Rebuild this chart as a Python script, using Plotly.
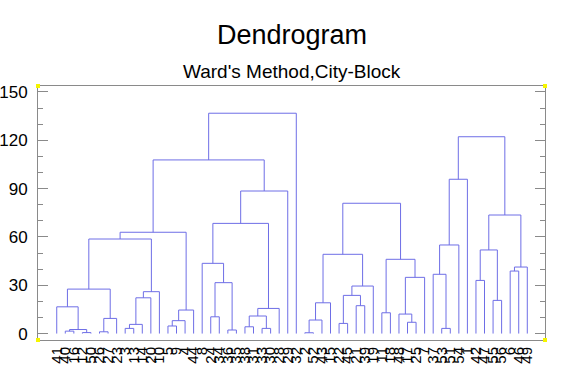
import plotly.graph_objects as go

# ---------------- data ----------------
leaf_labels = ["41", "40", "16", "12", "50", "26", "27", "23", "3", "13", "14", "20", "10", "5", "9",
               "4", "44", "8", "24", "34", "36", "35", "38", "31", "33", "30", "28", "29", "32",
               "2", "52", "43", "15", "22", "45", "21", "39", "19", "11", "18", "48", "17", "25", "7",
               "37", "53", "51", "54", "1", "42", "47", "55", "56", "6", "46", "49"]

# scipy-style linkage: ids 0..55 are leaves (in display order), 56+k is merge k
merge_left = [1, 3, 56, 0, 5, 60, 59, 8, 63, 64, 65, 62, 13, 68, 69, 67, 18, 20, 72, 17, 22, 24, 76, 78,
              75, 80, 71, 82,
              29, 84, 85, 33, 35, 87, 89, 86, 38, 41, 40, 94, 92, 91,
              45, 44, 99, 100, 49, 51, 102, 53, 105, 104, 101]
merge_right = [2, 4, 57, 58, 6, 7, 61, 9, 10, 11, 12, 66, 14, 15, 16, 70, 19, 21, 73, 74, 23, 25, 77, 26,
               79, 27, 81, 28,
               30, 31, 32, 34, 36, 88, 37, 90, 39, 42, 93, 43, 95, 96,
               46, 98, 47, 48, 50, 52, 103, 54, 55, 106, 107]
merge_height = [1.5, 0.6, 2.5, 16.6, 1.1, 9.4, 27.6, 3.2, 5.7, 22.2, 26.0, 58.7, 4.7, 8.0, 14.6, 62.9,
                10.4, 2.2, 31.6, 43.6, 4.2, 3.2, 10.9, 15.6, 68.4, 88.5, 107.8, 136.8,
                0.5, 8.4, 19.1, 6.3, 17.3, 23.7, 29.5, 49.2, 12.9, 7.0, 12.1, 34.9, 46.1, 80.9,
                3.2, 36.8, 55.0, 95.8, 33.0, 20.6, 51.9, 38.8, 41.3, 73.6, 122.2]

y_tick_values = [0, 30, 60, 90, 120, 150]

# ---------------- geometry from linkage ----------------
n = len(leaf_labels)
node_x = {i: float(i) for i in range(n)}
node_y = {i: 0.0 for i in range(n)}
xs, ys = [], []
for k, (a, b, h) in enumerate(zip(merge_left, merge_right, merge_height)):
    xa, ya, xb, yb = node_x[a], node_y[a], node_x[b], node_y[b]
    xs += [xa, xa, xb, xb, None]
    ys += [ya, h, h, yb, None]
    node_x[n + k] = (xa + xb) / 2.0
    node_y[n + k] = h

FONT = "Arial, Liberation Sans, sans-serif"
LINE = "#6e6ee6"
AX = "#8a8a8a"

fig = go.Figure()
fig.add_trace(go.Scatter(x=xs, y=ys, mode="lines", line=dict(color=LINE, width=1),
                         hoverinfo="skip", showlegend=False))

fig.update_layout(
    width=561, height=375,
    margin=dict(l=38, r=16, t=86, b=35),
    paper_bgcolor="white", plot_bgcolor="white",
    font=dict(family=FONT, color="black"),
    showlegend=False,
)
fig.update_xaxes(
    range=[-2.19, 57.07], showgrid=False, zeroline=False,
    showline=True, linecolor=AX, linewidth=1, mirror=True,
    tickmode="array", tickvals=list(range(n)), ticktext=leaf_labels,
    tickangle=-90, ticks="", tickfont=dict(size=15, family=FONT, color="black"),
    automargin=False,
)
fig.update_yaxes(
    range=[-4.0, 153.7], showgrid=False, zeroline=False,
    showline=True, linecolor=AX, linewidth=1, mirror="ticks",
    tickmode="array", tickvals=y_tick_values,
    ticks="inside", ticklen=10, tickcolor=AX, tickwidth=1,
    minor=dict(dtick=10, tick0=0, ticks="inside", ticklen=5, tickcolor=AX, tickwidth=1, showgrid=False),
    tickfont=dict(size=17, family=FONT, color="black"),
    ticklabelstandoff=6, automargin=False,
)

fig.add_annotation(text="Dendrogram", xref="paper", yref="paper", x=0.5, y=1.2,
                   xanchor="center", yanchor="middle", showarrow=False,
                   font=dict(size=27, family=FONT, color="black"))
fig.add_annotation(text="Ward's Method,City-Block", xref="paper", yref="paper", x=0.5, y=1.056,
                   xanchor="center", yanchor="middle", showarrow=False,
                   font=dict(size=19, family=FONT, color="black"))

# small yellow corner handles of the plot frame
dx, dy = 2.0 / 507, 2.0 / 254
for cx, cy in [(0, 0), (0, 1), (1, 0), (1, 1)]:
    fig.add_shape(type="rect", xref="paper", yref="paper",
                  x0=cx - dx, x1=cx + dx, y0=cy - dy, y1=cy + dy,
                  fillcolor="#f5f500", line=dict(width=0), layer="above")

fig.write_html("out.html", config={"displayModeBar": False},
               post_script="document.body.style.margin='0';document.body.style.overflow='hidden';")
